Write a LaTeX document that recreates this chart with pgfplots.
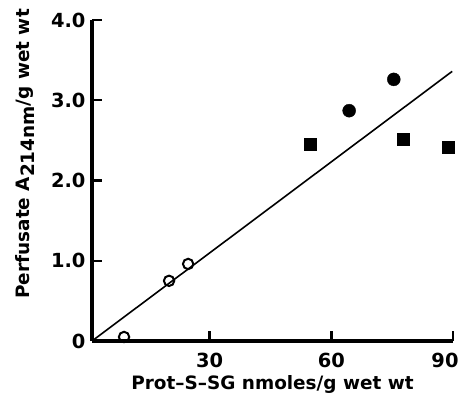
\documentclass[border=0pt]{standalone}
\usepackage{fontspec}
\setmainfont{DejaVu Sans}
\usepackage{pgfplots}
\pgfplotsset{compat=1.18}
\begin{document}
\begin{tikzpicture}
\useasboundingbox (0,0) rectangle (464bp,406bp);
\begin{axis}[
  at={(92bp,65bp)}, anchor=south west,
  scale only axis, width=361bp, height=321bp,
  xmin=1, xmax=90, ymin=0, ymax=4,
  axis x line*=bottom, axis y line*=left,
  axis line style={line width=3.4bp, -},
  xtick={30,60,90}, ytick={0,1,2,3,4},
  xticklabels={30,60,90\hspace*{16bp}},
  yticklabels={0,1.0,2.0,3.0,4.0},
  xtick align=inside, ytick align=inside, major tick length=10bp,
  tick style={line width=2.4bp, black},
  ticklabel style={font=\fontsize{19.5}{22}\selectfont\bfseries},
  /pgf/number format/assume math mode=true,
  xticklabel style={yshift=-9bp},
  yticklabel style={xshift=-3bp},
  xlabel={Prot–S–SG nmoles/g wet wt},
  ylabel={Perfusate A\raisebox{-0.5ex}{214nm}/g wet wt},
  label style={font=\fontsize{18.5}{20}\selectfont\bfseries},
  xlabel style={at={(axis description cs:0.5,-0.137)}, anchor=center},
  ylabel style={at={(axis description cs:-0.186,0.583)}, anchor=center},
  clip=false,
]
% fitted line
\addplot[line width=1.6bp] coordinates {(1,0) (89.8,3.36)};
% open circles
\addplot[only marks, mark=o, mark size=5.2bp, mark options={line width=2bp}]
  coordinates {(8.9,0.05) (20.0,0.75) (24.7,0.96)};
% filled circles
\addplot[only marks, mark=*, mark size=6.5bp]
  coordinates {(64.4,2.87) (75.4,3.26)};
% filled squares
\addplot[only marks, mark=square*, mark size=6bp]
  coordinates {(54.7,2.45) (77.7,2.52) (88.8,2.42)};
\end{axis}
\end{tikzpicture}
\end{document}
